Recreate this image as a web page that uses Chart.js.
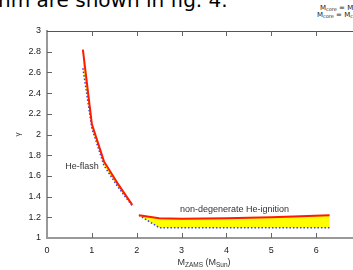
<!DOCTYPE html>
<html>
<head>
<meta charset="utf-8">
<script src="https://cdn.jsdelivr.net/npm/chart.js@4/dist/chart.umd.min.js"></script>
<style>
  html, body { margin: 0; padding: 0; background: #fff; overflow: hidden; }
  #wrap { position: relative; width: 353px; height: 270px; overflow: hidden; }
  #box { position: absolute; left: 0; top: 0; width: 380px; height: 270px; }
  .doc { position: absolute; left: -2px; top: -12px; font-family: "DejaVu Sans", sans-serif; font-size: 20px; color: #000; white-space: nowrap; }
  .note { position: absolute; left: 319px; font-family: "DejaVu Sans", sans-serif; font-size: 7px; color: #222; white-space: nowrap; }
  .note sub { font-size: 5px; vertical-align: -1px; }
</style>
</head>
<body>
<div id="wrap">
  <div class="doc">nm are shown in fig. 4.</div>
  <div class="note" style="top:4px; left:320px">M<sub>core</sub> = M</div>
  <div class="note" style="top:11px; left:317px">M<sub>core</sub> = M<sub>c</sub></div>
  <div id="box"><canvas id="graph" width="380" height="270"></canvas></div>
</div>
<script>
// low-mass branch (He-flash)
const lowX = [0.8, 1.0, 1.27, 1.57, 1.9];
const lowUpper = [2.82, 2.1, 1.74, 1.53, 1.32];
const lowLower = [2.64, 2.06, 1.7, 1.5, 1.31];
// high-mass branch (non-degenerate He-ignition)
const highX = [2.05, 2.5, 3, 4, 5, 6.3];
const highUpper = [1.22, 1.19, 1.185, 1.19, 1.2, 1.22];
const highLower = [1.22, 1.1, 1.1, 1.1, 1.1, 1.1];

const xTicks = [0, 1, 2, 3, 4, 5, 6];
const yTicks = [1, 1.2, 1.4, 1.6, 1.8, 2, 2.2, 2.4, 2.6, 2.8, 3];

const labels = [
    {text: "He-flash", x: 0.78, y: 1.69},
    {text: "non-degenerate He-ignition", x: 4.18, y: 1.28}
];

const pts = (xs, ys) => xs.map((x, i) => ({x: x, y: ys[i]}));

const RED = "#ff1a00";
const BLUE = "#2f3cff";
const YELLOW = "#ffff00";
const FONT = "Liberation Sans";

const upper = (data) => ({
    data: data, borderColor: RED, borderWidth: 2, backgroundColor: YELLOW,
    fill: "+1", pointRadius: 0, tension: 0
});
const lower = (data) => ({
    data: data, borderColor: BLUE, borderWidth: 1.5, borderDash: [1.5, 2],
    fill: false, pointRadius: 0, tension: 0
});

const decor = {
    id: "decor",
    afterDraw(chart) {
        const ctx = chart.ctx;
        const a = chart.chartArea;
        const xs = chart.scales.x, ys = chart.scales.y;
        ctx.save();
        // top frame
        ctx.strokeStyle = "#555";
        ctx.lineWidth = 1;
        ctx.beginPath();
        ctx.moveTo(a.left, a.top + 0.5);
        ctx.lineTo(a.right, a.top + 0.5);
        ctx.stroke();
        // inward ticks
        ctx.strokeStyle = "#666";
        ctx.beginPath();
        xTicks.slice(1).forEach((v) => {
            const px = Math.round(xs.getPixelForValue(v)) + 0.5;
            ctx.moveTo(px, a.bottom); ctx.lineTo(px, a.bottom - 5);
            ctx.moveTo(px, a.top); ctx.lineTo(px, a.top + 5);
        });
        yTicks.slice(1, -1).forEach((v) => {
            const py = Math.round(ys.getPixelForValue(v)) + 0.5;
            ctx.moveTo(a.left, py); ctx.lineTo(a.left + 5, py);
        });
        ctx.stroke();
        // region labels
        ctx.fillStyle = "#333";
        ctx.font = "9px '" + FONT + "'";
        ctx.textAlign = "center";
        ctx.textBaseline = "middle";
        labels.forEach((l) => ctx.fillText(l.text, xs.getPixelForValue(l.x), ys.getPixelForValue(l.y)));
        // x title with subscripts
        const cx = (a.left + a.right) / 2, by = 265;
        const parts = [["M", 9, 0], ["ZAMS", 6.5, 2], [" (M", 9, 0], ["Sun", 6.5, 2], [")", 9, 0]];
        let w = 0;
        parts.forEach((p) => { ctx.font = p[1] + "px '" + FONT + "'"; w += ctx.measureText(p[0]).width; });
        let px = cx - w / 2;
        ctx.textAlign = "left";
        ctx.textBaseline = "alphabetic";
        parts.forEach((p) => {
            ctx.font = p[1] + "px '" + FONT + "'";
            ctx.fillText(p[0], px, by + p[2]);
            px += ctx.measureText(p[0]).width;
        });
        // y title
        ctx.translate(18, ys.getPixelForValue(2));
        ctx.rotate(-Math.PI / 2);
        ctx.textAlign = "center";
        ctx.textBaseline = "middle";
        ctx.font = "8px '" + FONT + "'";
        ctx.fillText("\u03b3", 0, 0);
        ctx.restore();
    }
};

new Chart(document.getElementById("graph").getContext("2d"), {
    type: "line",
    data: {
        datasets: [
            upper(pts(lowX, lowUpper)), lower(pts(lowX, lowLower)),
            upper(pts(highX, highUpper)), lower(pts(highX, highLower))
        ]
    },
    options: {
        responsive: false,
        animation: false,
        layout: {padding: {left: 0, top: 31, right: 19, bottom: 0}},
        plugins: {
            legend: {display: false},
            tooltip: {enabled: false},
            filler: {drawTime: "beforeDatasetsDraw"}
        },
        scales: {
            x: {
                type: "linear", min: 0, max: 7,
                afterFit: (s) => { s.height = 32; },
                afterBuildTicks: (s) => { s.ticks = xTicks.map((v) => ({value: v})); },
                grid: {display: false, drawTicks: false},
                border: {display: true, color: "#999", width: 2},
                ticks: {padding: 7, color: "#222", font: {family: FONT, size: 9}, maxRotation: 0}
            },
            y: {
                type: "linear", min: 1, max: 3,
                afterFit: (s) => { s.width = 47; },
                afterBuildTicks: (s) => { s.ticks = yTicks.map((v) => ({value: v})); },
                grid: {display: false, drawTicks: false},
                border: {display: true, color: "#999", width: 2},
                ticks: {padding: 6, color: "#222", font: {family: FONT, size: 9},
                    callback: (v) => String(Math.round(v * 10) / 10)}
            }
        }
    },
    plugins: [decor]
});
</script>
</body>
</html>
